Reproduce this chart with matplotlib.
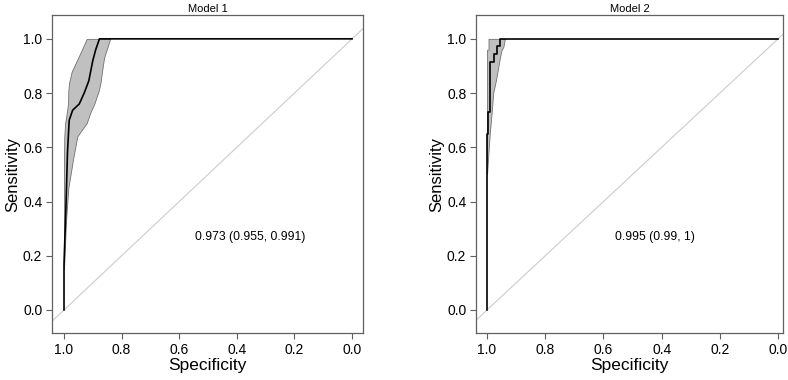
import matplotlib
matplotlib.use("Agg")
import matplotlib.pyplot as plt

plt.rcParams["font.family"] = ["Liberation Sans", "DejaVu Sans"]

titles = ["Model 1", "Model 2"]
auc_labels = ["0.973 (0.955, 0.991)", "0.995 (0.99, 1)"]

# ROC curves (specificity, sensitivity)
m1_spec = [1.0, 1.0, 0.993, 0.988, 0.982, 0.970, 0.947, 0.930, 0.914, 0.900, 0.890, 0.877, 0.0]
m1_sens = [0.0, 0.17, 0.39, 0.58, 0.70, 0.737, 0.76, 0.80, 0.845, 0.92, 0.96, 1.0, 1.0]

m2_spec = [1.0, 1.0, 0.997, 0.997, 0.990, 0.990, 0.975, 0.975, 0.966, 0.966, 0.957, 0.957, 0.0]
m2_sens = [0.0, 0.65, 0.65, 0.73, 0.73, 0.915, 0.915, 0.945, 0.945, 0.975, 0.975, 1.0, 1.0]

# confidence bands: sensitivity grid with specificity limits
m1_band_sens = [0.15, 0.33, 0.45, 0.56, 0.64, 0.69, 0.73, 0.76, 0.81, 0.84, 0.88, 0.93, 0.96, 1.00]
m1_band_hi = [1.0, 1.0, 1.0, 1.0, 0.999, 0.996, 0.990, 0.986, 0.985, 0.982, 0.973, 0.951, 0.938, 0.921]
m1_band_lo = [1.0, 0.993, 0.985, 0.968, 0.954, 0.921, 0.908, 0.895, 0.879, 0.873, 0.868, 0.861, 0.852, 0.840]

m2_band_sens = [0.50, 0.57, 0.57, 0.66, 0.66, 0.73, 0.73, 0.80, 0.80, 0.85, 0.85, 0.88, 0.88,
                0.93, 0.93, 0.96, 0.96, 0.97, 0.97, 1.00]
m2_band_hi = [1.0, 1.0, 1.0, 1.0, 1.0, 1.0, 1.0, 1.0, 1.0, 1.0, 1.0, 1.0, 1.0,
              1.0, 1.0, 1.0, 0.995, 0.995, 0.995, 0.995]
m2_band_lo = [1.0, 0.996, 0.996, 0.990, 0.990, 0.984, 0.984, 0.979, 0.979, 0.969, 0.969, 0.964, 0.964,
              0.956, 0.956, 0.950, 0.950, 0.944, 0.944, 0.939]

ticks = [1.0, 0.8, 0.6, 0.4, 0.2, 0.0]

fig = plt.figure(figsize=(7.88, 3.8), dpi=100)
axes = [fig.add_axes([52 / 788, 47 / 380, 311 / 788, 318 / 380]),
        fig.add_axes([476 / 788, 47 / 380, 307 / 788, 318 / 380])]
xlims = [(1.0417, -0.038), (1.038, -0.017)]
text_x = [0.545, 0.56]

curves = [(m1_spec, m1_sens), (m2_spec, m2_sens)]
bands = [(m1_band_sens, m1_band_lo, m1_band_hi), (m2_band_sens, m2_band_lo, m2_band_hi)]

for i, ax in enumerate(axes):
    bs, lo, hi = bands[i]
    ax.fill_betweenx(bs, lo, hi, facecolor="#c0c0c0", edgecolor="#707070", linewidth=0.6, zorder=2)
    ax.axline((1, 0), (0, 1), color="#cccccc", linewidth=0.8, zorder=1)
    ax.plot(curves[i][0], curves[i][1], color="black", linewidth=1.2, zorder=3)
    ax.set_xlim(*xlims[i])
    ax.set_ylim(-0.085, 1.088)
    ax.set_xticks(ticks)
    ax.set_xticklabels([f"{t:.1f}" for t in ticks])
    ax.set_yticks(ticks)
    ax.set_yticklabels([f"{t:.1f}" for t in ticks])
    ax.tick_params(direction="out", length=4, width=0.8, color="#606060", labelsize=10, pad=3)
    for s in ax.spines.values():
        s.set_color("#606060")
        s.set_linewidth(0.9)
    ax.set_title(titles[i], fontsize=8, pad=2)
    ax.set_xlabel("Specificity", fontsize=12.5, labelpad=1)
    ax.set_ylabel("Sensitivity", fontsize=12, labelpad=2)
    ax.text(text_x[i], 0.27, auc_labels[i], fontsize=8.7, ha="left", va="center")

fig.savefig("out.png", dpi=100)
